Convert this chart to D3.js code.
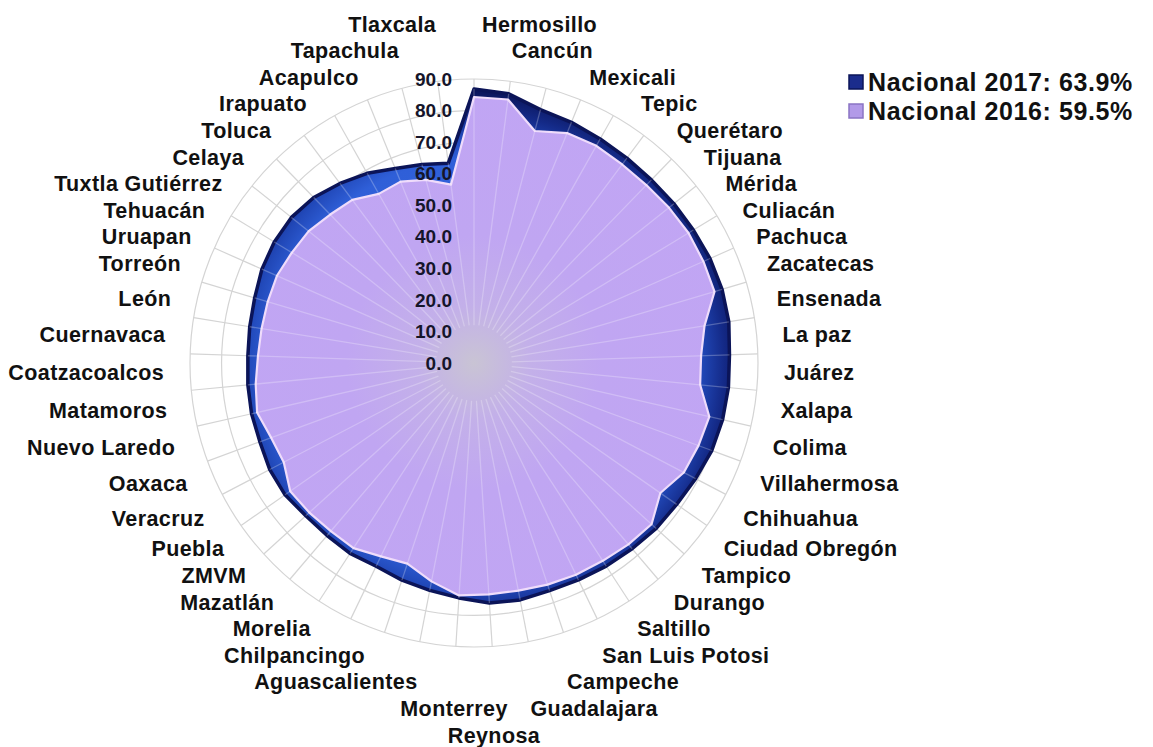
<!DOCTYPE html>
<html><head><meta charset="utf-8">
<script src="https://cdn.jsdelivr.net/npm/d3@7"></script>
<style>body{margin:0;background:#fff;} svg{display:block;}</style>
</head><body><svg id="c" width="1153" height="747"></svg>
<script>
const cities = ["Hermosillo","Cancún","Mexicali","Tepic","Querétaro","Tijuana","Mérida","Culiacán","Pachuca","Zacatecas","Ensenada","La paz","Juárez","Xalapa","Colima","Villahermosa","Chihuahua","Ciudad Obregón","Tampico","Durango","Saltillo","San Luis Potosi","Campeche","Guadalajara","Reynosa","Monterrey","Aguascalientes","Chilpancingo","Morelia","Mazatlán","ZMVM","Puebla","Veracruz","Oaxaca","Nuevo Laredo","Matamoros","Coatzacoalcos","Cuernavaca","León","Torreón","Uruapan","Tehuacán","Tuxtla Gutiérrez","Celaya","Toluca","Irapuato","Acapulco","Tapachula","Tlaxcala"];
const values2017 = [86.8,86.0,83.0,82.3,81.5,81.0,80.8,81.0,81.3,81.8,82.0,81.8,81.0,81.0,80.8,80.3,79.2,78.3,78.0,77.3,76.8,76.3,76.0,76.5,76.2,74.6,73.4,72.5,71.5,72.0,71.8,72.0,73.0,73.0,72.3,72.3,72.0,71.7,72.0,72.5,73.5,74.0,74.0,73.0,71.0,69.0,66.5,65.0,63.8];
const values2016 = [84.3,84.2,76.0,78.6,79.0,78.5,78.5,79.0,79.5,79.5,79.5,74.0,72.0,72.0,76.5,75.8,75.0,72.0,76.0,75.5,74.8,74.5,74.0,73.5,73.5,73.8,70.5,67.0,68.0,70.0,70.0,70.5,71.0,68.0,68.5,70.5,69.5,68.5,68.2,68.2,68.3,67.5,67.0,65.5,64.5,61.5,62.0,60.0,57.0];
const tickValues = [0,10,20,30,40,50,60,70,80,90];
const legendLabels = ["Nacional 2017: 63.9%","Nacional 2016: 59.5%"];

const cx = 474, cy = 363, R = 284;
const svg = d3.select("#c");
const N = cities.length;
const angle = d3.scaleLinear().domain([0, N]).range([0, 2 * Math.PI]);
const r = d3.scaleLinear().domain([0, 90]).range([0, R]);

const defs = svg.append("defs");
const g17 = defs.append("radialGradient").attr("id","g17").attr("gradientUnits","userSpaceOnUse")
  .attr("cx",0).attr("cy",0).attr("r",R);
[[0,"#3a6be0"],[0.72,"#2f5fd8"],[0.8,"#2148b8"],[0.88,"#142a88"],[0.95,"#0c175f"],[1,"#0a1350"]]
  .forEach(([o,c]) => g17.append("stop").attr("offset",o).attr("stop-color",c));
const g16 = defs.append("radialGradient").attr("id","g16").attr("gradientUnits","userSpaceOnUse")
  .attr("cx",0).attr("cy",0).attr("r",R);
[[0,"#c9c4d4"],[0.2,"#c3b0e9"],[0.45,"#c0a6f2"],[1,"#c1a5f4"]]
  .forEach(([o,c]) => g16.append("stop").attr("offset",o).attr("stop-color",c));

const g = svg.append("g").attr("transform", `translate(${cx},${cy})`);

// grid
g.selectAll("circle.grid").data(tickValues.slice(1)).join("circle")
  .attr("class","grid").attr("r", d => r(d))
  .attr("fill","none").attr("stroke","#d4d4d4").attr("stroke-width",1.2);
g.selectAll("line.spoke").data(d3.range(N)).join("line")
  .attr("class","spoke")
  .attr("x1",0).attr("y1",0)
  .attr("x2", i => r(90) * Math.sin(angle(i)))
  .attr("y2", i => -r(90) * Math.cos(angle(i)))
  .attr("stroke","#d4d4d4").attr("stroke-width",1.2);

const radial = d3.lineRadial()
  .angle((d, i) => angle(i))
  .radius(d => r(d))
  .curve(d3.curveLinearClosed);

g.append("path").datum(values2017).attr("d", radial)
  .attr("fill","url(#g17)").attr("stroke","#0b1458").attr("stroke-width",3.5)
  .attr("stroke-linejoin","round");
g.append("path").datum(values2016).attr("d", radial)
  .attr("fill","url(#g16)").attr("stroke","#efdcfb").attr("stroke-width",2.2)
  .attr("stroke-linejoin","round");

// faint light spokes over the areas
g.selectAll("line.hi").data(d3.range(N)).join("line")
  .attr("class","hi")
  .attr("x1", i => r(12) * Math.sin(angle(i)))
  .attr("y1", i => -r(12) * Math.cos(angle(i)))
  .attr("x2", i => r(values2017[i]) * Math.sin(angle(i)))
  .attr("y2", i => -r(values2017[i]) * Math.cos(angle(i)))
  .attr("stroke","#ffffff").attr("stroke-opacity",0.25).attr("stroke-width",1.3);

// tick labels
g.selectAll("text.tick").data(tickValues).join("text")
  .attr("class","tick")
  .attr("x",-22).attr("y", d => -r(d)).attr("dy","0.35em")
  .attr("text-anchor","end")
  .attr("font-family","'Liberation Sans', Arial, sans-serif").attr("font-weight","bold")
  .attr("font-size",19).attr("fill","#15152a")
  .text(d => d3.format(".1f")(d));

// category label layout (outward push from the horizontal, then clamped to the frame)
const gap = 26.6, topY = 24, botY = 735;
const ideal = th => 382 - 295 * Math.cos(th);
const rightIdx = d3.range(N).filter(i => angle(i) < Math.PI);
const rows = rightIdx.map(i => ideal(angle(i)));
const m = d3.minIndex(rightIdx, i => Math.abs(Math.cos(angle(i))));
for (let i = m - 1; i >= 0; i--) rows[i] = Math.min(rows[i], rows[i + 1] - gap);
for (let i = m + 1; i < rows.length; i++) rows[i] = Math.max(rows[i], rows[i - 1] + gap);
rows[0] = Math.max(rows[0], topY);
for (let i = 1; i <= m; i++) rows[i] = Math.max(rows[i], rows[i - 1] + gap);
rows[rows.length - 1] = Math.min(rows[rows.length - 1], botY);
for (let i = rows.length - 2; i >= m; i--) rows[i] = Math.min(rows[i], rows[i + 1] - gap);

const labelData = cities.map((name, i) => {
  const th = angle(i);
  const right = th < Math.PI;
  const rank = right ? i : N - 1 - i;
  const y = rows[rank];
  const dy = y - 365;
  const circ = Math.sqrt(Math.max(0, 310 * 310 - dy * dy));
  const ang = 0.95 * 311 * Math.abs(Math.sin(th));
  const dx = Math.max(8, circ, ang);
  let anchor = right ? "start" : "end";
  let x = right ? cx + dx : cx - dx;
  if (Math.cos(th) < 0 && Math.abs(Math.sin(th)) < 0.1) {
    anchor = "middle";
    x = cx + 311 * Math.sin(th);
  }
  return {name, x, y, anchor};
});

svg.append("g").selectAll("text").data(labelData).join("text")
  .attr("x", d => d.x).attr("y", d => d.y).attr("dy","0.35em")
  .attr("text-anchor", d => d.anchor)
  .attr("font-family","'Liberation Sans', Arial, sans-serif").attr("font-weight","bold")
  .attr("font-size",21.5).attr("letter-spacing","0.4px").attr("fill","#111")
  .text(d => d.name);

// legend
const legendColors = [["#1b2c8c","#0b1458"],["#b29ae8","#8a74c4"]];
const lg = svg.append("g");
legendLabels.forEach((t, i) => {
  const y = 82 + i * 29;
  lg.append("rect").attr("x",849).attr("y",y - 7).attr("width",14).attr("height",14)
    .attr("fill",legendColors[i][0]).attr("stroke",legendColors[i][1]).attr("stroke-width",1.5);
  lg.append("text").attr("x",868).attr("y",y).attr("dy","0.35em")
    .attr("font-family","'Liberation Sans', Arial, sans-serif").attr("font-weight","bold")
    .attr("font-size",25).attr("letter-spacing","0.6px").attr("fill","#111")
    .text(t);
});
</script></body></html>
